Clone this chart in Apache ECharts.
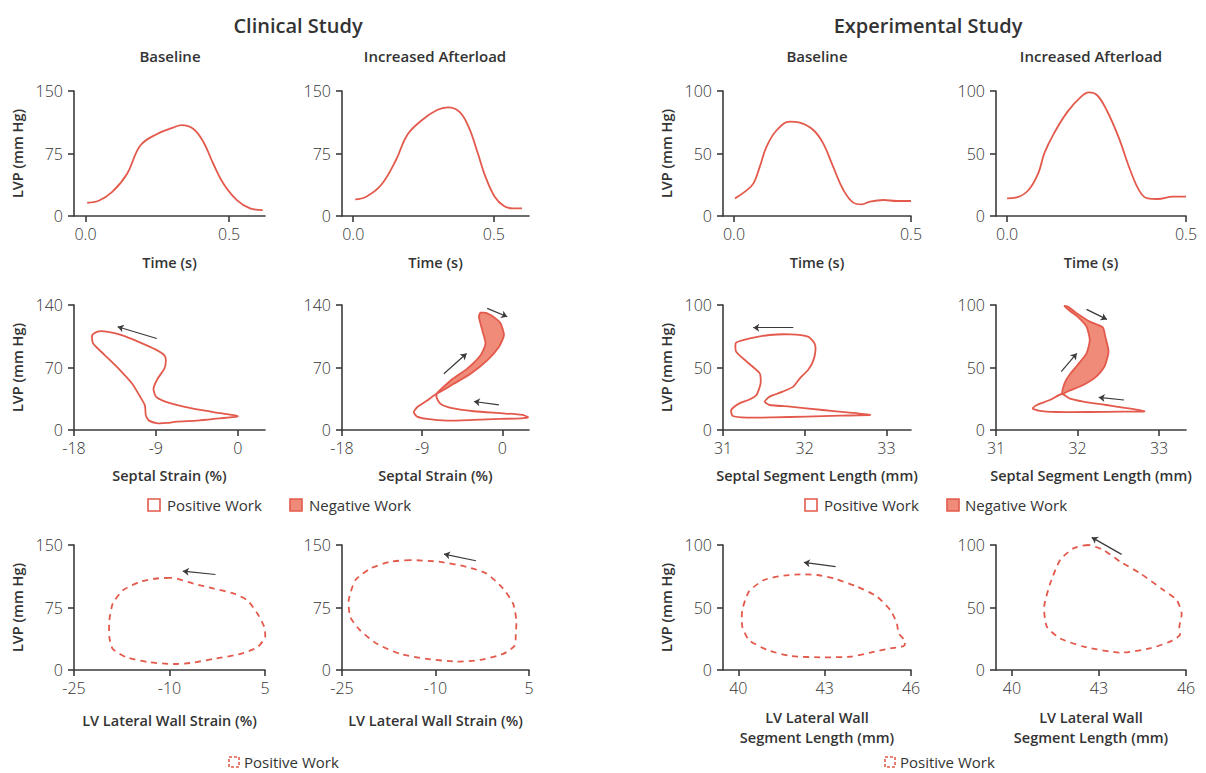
<!DOCTYPE html>
<html>
<head>
<meta charset="utf-8">
<title>LV pressure, strain and segment length loops</title>
<script src="https://cdn.jsdelivr.net/npm/echarts@6/dist/echarts.min.js"></script>
<style>
  html, body { margin: 0; padding: 0; background: #fff; }
  #chart { width: 1206px; height: 773px; }
</style>
</head>
<body>
<div id="chart"></div>
<script>
// ---- values ----
// row 1: LV pressure over time, [time (s), LVP (mm Hg)]
const clinBaseTime = [[0.006, 15.9], [0.046, 18.3], [0.093, 28.9], [0.145, 50.8], [0.191, 84.5], [0.249, 98.4], [0.307, 106.3], [0.335, 109.1], [0.376, 104.4], [0.411, 88.5], [0.445, 62.7], [0.48, 38.9], [0.527, 19], [0.573, 9.1], [0.617, 7.1]];
const clinAftTime = [[0.007, 20], [0.046, 23.2], [0.099, 37.2], [0.152, 67.2], [0.192, 97.2], [0.245, 115.2], [0.298, 127.2], [0.337, 130.4], [0.377, 125.2], [0.41, 107.2], [0.443, 75.2], [0.47, 47.2], [0.503, 23.2], [0.536, 12], [0.569, 9.2], [0.6, 9.2]];
const expBaseTime = [[0.003, 14.1], [0.031, 19.5], [0.055, 26.1], [0.073, 39.5], [0.092, 55.5], [0.121, 68.8], [0.158, 75.5], [0.186, 74.7], [0.224, 68.8], [0.252, 58.1], [0.28, 39.5], [0.309, 20.8], [0.337, 10.7], [0.361, 9.3], [0.384, 11.5], [0.422, 12.8], [0.46, 12], [0.5, 12]];
const expAftTime = [[0, 14.1], [0.027, 14.9], [0.06, 20.8], [0.087, 34.1], [0.104, 50.1], [0.131, 66.1], [0.169, 83.5], [0.207, 95.5], [0.229, 98.9], [0.251, 96.8], [0.278, 84.8], [0.311, 63.5], [0.344, 36.8], [0.371, 19.5], [0.393, 14.1], [0.42, 13.6], [0.464, 15.5], [0.5, 15.5]];

// row 2: septal loops, [strain (%) or length (mm), LVP]
const clinBaseSeptal = [[0, 15.4], [-1.88, 18.8], [-4.1, 22.5], [-6.4, 27.4], [-8.25, 33], [-9, 37.5], [-9.26, 46.2], [-8.81, 57.4], [-8.06, 68.7], [-7.9, 78], [-8.06, 83.7], [-9, 90], [-10.9, 98.7], [-12.75, 106.2], [-14.25, 110], [-15.4, 110.3], [-16, 106.2], [-15.9, 96.8], [-14.6, 83.7], [-13.1, 68.7], [-11.6, 51.8], [-10.7, 36.8], [-10.2, 27.4], [-10.1, 16.1], [-9.75, 10.5], [-8.8, 7.5], [-7.7, 7.9], [-6.75, 9.4], [-4.5, 10.5], [-2.6, 12.4]];
const clinAftSeptalPos = [[-7.39, 40.5], [-8.44, 33], [-9.56, 25.5], [-9.94, 19.9], [-9.56, 15], [-8.44, 12.4], [-6.2, 10.5], [-3.19, 11.3], [-0.19, 12.4], [2.06, 13.1], [2.89, 14.3], [2.25, 16.9], [-0.19, 18.8], [-3.19, 21], [-5.8, 24.8], [-6.94, 29.3], [-7.39, 36.8]];
const clinAftSeptalNeg = [[-7.39, 40.5], [-5.8, 55.5], [-3.94, 68.7], [-2.44, 83.7], [-1.88, 96.8], [-2.25, 111.8], [-2.63, 126.9], [-2.44, 131.4], [-1.69, 130.6], [-0.75, 125], [-0.19, 119.3], [0.19, 106.2], [-0.38, 93], [-1.69, 78], [-3.56, 63], [-5.44, 51.8]];
const expBaseSeptal = [[32.8, 12], [32.55, 13.9], [32.22, 16], [31.82, 18.7], [31.57, 20], [31.51, 22.7], [31.57, 26.7], [31.73, 30.7], [31.86, 34.7], [31.94, 41.3], [32.04, 48], [32.1, 54.7], [32.13, 62.7], [32.12, 69.3], [32.04, 74.7], [31.82, 76.5], [31.57, 76], [31.33, 73.3], [31.16, 69.9], [31.16, 62.7], [31.29, 54.7], [31.45, 45.3], [31.46, 37.3], [31.41, 28], [31.31, 24], [31.2, 21.3], [31.1, 16], [31.12, 11.2], [31.29, 9.9], [31.61, 10.1], [32.02, 10.7], [32.43, 11.5]];
const expAftSeptalPos = [[31.81, 28.8], [31.66, 24], [31.5, 20], [31.45, 17.3], [31.52, 15.5], [31.74, 14.4], [32.15, 14.4], [32.55, 14.7], [32.82, 14.9], [32.63, 17.3], [32.35, 20], [32.07, 22.7], [31.9, 25.3]];
const expAftSeptalNeg = [[31.81, 28.8], [31.84, 37.3], [31.9, 44], [32.0, 52], [32.11, 61.3], [32.15, 72], [32.11, 82.7], [32.0, 90.7], [31.9, 95.5], [31.84, 99.2], [31.88, 98.7], [31.98, 93.9], [32.15, 86.7], [32.31, 82.1], [32.34, 74.7], [32.38, 62.7], [32.33, 50.7], [32.23, 42.7], [32.07, 36], [31.9, 31.5]];

// row 3: LV lateral wall loops
const clinBaseLateral = [[-9.92, 110.6], [-12.04, 109.8], [-14.68, 105.7], [-17.33, 95.7], [-18.92, 79.6], [-19.45, 59.5], [-19.45, 39.4], [-18.92, 25.3], [-16.8, 15.3], [-13.1, 9.2], [-9.4, 7.2], [-6.75, 8.4], [-3.05, 13.3], [1.19, 19.3], [3.83, 27.3], [5.0, 39.4], [4.89, 51.5], [3.83, 67.5], [2.24, 83.6], [0.13, 91.7], [-3.05, 97.7], [-6.22, 103.7], [-8.86, 109.7]];
const clinAftLateral = [[-14.07, 131.9], [-17.27, 129.8], [-20.47, 121.8], [-22.87, 107.7], [-23.93, 83.6], [-23.67, 63.5], [-22.07, 47.4], [-19.4, 31.4], [-15.67, 19.3], [-11.41, 13.3], [-6.61, 10.1], [-2.88, 12.1], [0.85, 19.3], [2.72, 29.3], [2.88, 43.4], [2.98, 59.5], [2.45, 79.6], [0.85, 97.7], [-1.81, 115.8], [-5.01, 123.8], [-9.28, 129.8]];
const expBaseLateral = [[42.16, 76.5], [41.58, 75.5], [40.89, 72], [40.37, 62.7], [40.14, 48], [40.14, 34.7], [40.37, 24], [41.01, 16], [41.82, 11.2], [42.97, 10.1], [43.9, 10.7], [44.59, 13.9], [45.28, 17.3], [45.75, 19.2], [45.8, 23.2], [45.57, 29.3], [45.51, 37.3], [45.28, 48], [44.82, 58.7], [44.13, 66.7], [43.32, 73.3], [42.74, 76]];
const expAftLateral = [[42.64, 100], [42.12, 97.3], [41.66, 88], [41.32, 69.3], [41.11, 50.7], [41.2, 34.7], [41.66, 25.3], [42.47, 18.7], [43.73, 13.9], [44.76, 17.3], [45.45, 22.7], [45.79, 28], [45.77, 34.7], [45.85, 45.3], [45.68, 56], [45.22, 64], [44.42, 77.3], [43.73, 86.7], [43.15, 96]];

// direction arrows, [from, to]
const clinBaseSeptalArrows = [[[-8.9, 102.5], [-13.2, 115.6]]];
const clinAftSeptalArrows = [[[-6.56, 63], [-4.01, 85.6]], [[-1.69, 136.2], [0.56, 126.9]], [[-0.38, 28.1], [-3.19, 31.9]]];
const expBaseSeptalArrows = [[[31.86, 81.9], [31.37, 81.9]]];
const expAftSeptalArrows = [[[31.8, 46.7], [31.99, 61.3]], [[32.11, 96.5], [32.36, 88.5]], [[32.57, 24], [32.26, 26.1]]];
const clinBaseLateralArrows = [[[-2.78, 114.6], [-7.91, 118.6]]];
const clinAftLateralArrows = [[[-3.52, 131.1], [-8.64, 139.1]]];
const expBaseLateralArrows = [[[43.38, 82.7], [42.28, 86.1]]];
const expAftLateralArrows = [[[43.78, 92.5], [42.75, 106.1]]];

// tick labels
const timeTicks = [0, 0.5];
const strainTicks = [-18, -9, 0];
const lengthTicks = [31, 32, 33];
const lateralStrainTicks = [-25, -10, 5];
const lateralLengthTicks = [40, 43, 46];

// ---- layout ----
const FONT = '"Open Sans", Lato, sans-serif';
const RED = '#e35a4c';
const FILL = '#ef8b78';
const AX = '#3c3c3c';
const TXT = '#333';

const colL = [74, 342, 723, 996];
const colR = [265, 529, 911, 1186];
const rowT = [91, 305, 545];
const rowB = [216, 430, 670];

const grids = [];
for (let r = 0; r < 3; r++) {
  for (let c = 0; c < 4; c++) {
    grids.push({ left: colL[c], top: rowT[r], width: colR[c] - colL[c], height: rowB[r] - rowT[r] });
  }
}

function xAx(gi, min, max, ticks, name, gap, fmt) {
  return {
    type: 'value', gridIndex: gi, min: min, max: max,
    name: name, nameLocation: 'middle', nameGap: gap,
    nameTextStyle: { fontFamily: FONT, fontSize: 14.5, fontWeight: 600, color: TXT, lineHeight: 20 },
    axisLine: { show: true, onZero: false, lineStyle: { color: AX, width: 1.6 } },
    axisTick: { show: true, length: 6, customValues: ticks, lineStyle: { color: AX, width: 1.6 } },
    axisLabel: { customValues: ticks, formatter: fmt || (v => String(v)), margin: 10,
      fontFamily: FONT, fontSize: 16, fontWeight: 300, color: TXT },
    splitLine: { show: false }
  };
}

function yAx(gi, max, interval, named) {
  return {
    type: 'value', gridIndex: gi, min: 0, max: max, interval: interval,
    name: named ? 'LVP (mm Hg)' : '', nameLocation: 'middle', nameGap: 49, nameRotate: 90,
    nameTextStyle: { fontFamily: FONT, fontSize: 14.5, fontWeight: 600, color: TXT },
    axisLine: { show: true, onZero: false, lineStyle: { color: AX, width: 1.6 } },
    axisTick: { show: true, length: 6, lineStyle: { color: AX, width: 1.6 } },
    axisLabel: { margin: 11, fontFamily: FONT, fontSize: 16, fontWeight: 300, color: TXT },
    splitLine: { show: false }
  };
}

const timeFmt = v => v.toFixed(1);
const xAxes = [
  xAx(0, -0.04, 0.625, timeTicks, 'Time (s)', 36, timeFmt),
  xAx(1, -0.04, 0.625, timeTicks, 'Time (s)', 36, timeFmt),
  xAx(2, -0.031, 0.5, timeTicks, 'Time (s)', 36, timeFmt),
  xAx(3, -0.031, 0.5, timeTicks, 'Time (s)', 36, timeFmt),
  xAx(4, -18, 3, strainTicks, 'Septal Strain (%)', 35),
  xAx(5, -18, 3, strainTicks, 'Septal Strain (%)', 35),
  xAx(6, 31, 33.3, lengthTicks, 'Septal Segment Length (mm)', 35),
  xAx(7, 31, 33.33, lengthTicks, 'Septal Segment Length (mm)', 35),
  xAx(8, -25, 5, lateralStrainTicks, 'LV Lateral Wall Strain (%)', 40),
  xAx(9, -25, 5, lateralStrainTicks, 'LV Lateral Wall Strain (%)', 40),
  xAx(10, 39.47, 46, lateralLengthTicks, 'LV Lateral Wall\nSegment Length (mm)', 37),
  xAx(11, 39.45, 46, lateralLengthTicks, 'LV Lateral Wall\nSegment Length (mm)', 37)
];
const yAxes = [
  yAx(0, 150, 75, true), yAx(1, 150, 75, false), yAx(2, 100, 50, true), yAx(3, 100, 50, false),
  yAx(4, 140, 70, true), yAx(5, 140, 70, false), yAx(6, 100, 50, true), yAx(7, 100, 50, false),
  yAx(8, 150, 75, true), yAx(9, 150, 75, false), yAx(10, 100, 50, true), yAx(11, 100, 50, false)
];

function curve(gi, pts) {
  return {
    type: 'line', xAxisIndex: gi, yAxisIndex: gi, data: pts, smooth: 0.4,
    showSymbol: false, symbol: 'none', silent: true,
    lineStyle: { color: RED, width: 1.8 }
  };
}

// closed loop drawn as a polygon through the axis scales
function loop(gi, pts, fill, dash, z) {
  return {
    type: 'custom', xAxisIndex: gi, yAxisIndex: gi, data: pts, silent: true, z: z || 2,
    renderItem: (params, api) => {
      if (params.dataIndex !== 0) return null;
      return {
        type: 'polygon',
        shape: { points: pts.map(p => api.coord(p)), smooth: 0.2 },
        style: { fill: fill || 'none', stroke: RED, lineWidth: 1.8, lineDash: dash || null }
      };
    }
  };
}

function arrows(gi, list) {
  return {
    type: 'lines', coordinateSystem: 'cartesian2d', xAxisIndex: gi, yAxisIndex: gi,
    symbol: ['none', 'arrow'], symbolSize: 6, silent: true, clip: false, z: 5,
    lineStyle: { color: '#3a3a3a', width: 1.2, opacity: 1 },
    data: list.map(a => ({ coords: a }))
  };
}

const DASH = [6, 5];
const series = [
  curve(0, clinBaseTime), curve(1, clinAftTime), curve(2, expBaseTime), curve(3, expAftTime),
  loop(4, clinBaseSeptal), arrows(4, clinBaseSeptalArrows),
  loop(5, clinAftSeptalNeg, FILL, null, 3), loop(5, clinAftSeptalPos), arrows(5, clinAftSeptalArrows),
  loop(6, expBaseSeptal), arrows(6, expBaseSeptalArrows),
  loop(7, expAftSeptalNeg, FILL, null, 3), loop(7, expAftSeptalPos), arrows(7, expAftSeptalArrows),
  loop(8, clinBaseLateral, null, DASH), arrows(8, clinBaseLateralArrows),
  loop(9, clinAftLateral, null, DASH), arrows(9, clinAftLateralArrows),
  loop(10, expBaseLateral, null, DASH), arrows(10, expBaseLateralArrows),
  loop(11, expAftLateral, null, DASH), arrows(11, expAftLateralArrows)
];

function label(text, x, y, size, weight) {
  return { type: 'text', x: x, y: y, silent: true,
    style: { text: text, align: 'center', verticalAlign: 'middle', font: weight + ' ' + size + 'px ' + FONT, fill: TXT } };
}
function legendText(text, x, y) {
  return { type: 'text', x: x, y: y, silent: true,
    style: { text: text, align: 'left', verticalAlign: 'middle', font: '400 15px ' + FONT, fill: TXT } };
}
function box(x, y, size, fill, dash) {
  return { type: 'rect', shape: { x: x, y: y, width: size, height: size }, silent: true,
    style: { fill: fill, stroke: RED, lineWidth: 1.6, lineDash: dash || null } };
}

const graphic = [
  label('Clinical Study', 298, 25, 20, 600),
  label('Experimental Study', 928, 25, 20, 600),
  label('Baseline', 170, 56, 15, 600),
  label('Increased Afterload', 435, 56, 15, 600),
  label('Baseline', 817, 56, 15, 600),
  label('Increased Afterload', 1091, 56, 15, 600),
  box(148, 499, 12, '#fff'), legendText('Positive Work', 167, 505),
  box(290, 499, 12, FILL), legendText('Negative Work', 309, 505),
  box(805, 499, 12, '#fff'), legendText('Positive Work', 824, 505),
  box(947, 499, 12, FILL), legendText('Negative Work', 965, 505),
  box(229, 757, 10, '#fff', [3, 2]), legendText('Positive Work', 244, 762),
  box(885, 757, 10, '#fff', [3, 2]), legendText('Positive Work', 900, 762)
];

const chart = echarts.init(document.getElementById('chart'), null, { renderer: 'svg' });
chart.setOption({
  animation: false,
  backgroundColor: '#fff',
  textStyle: { fontFamily: FONT },
  grid: grids,
  xAxis: xAxes,
  yAxis: yAxes,
  series: series,
  graphic: graphic
});
</script>
</body>
</html>
